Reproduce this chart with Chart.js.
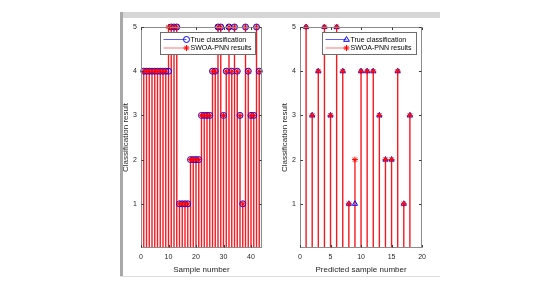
<!DOCTYPE html>
<html><head><meta charset="utf-8">
<script src="https://cdn.jsdelivr.net/npm/chart.js@4.4.1/dist/chart.umd.min.js"></script>
<style>
html,body{margin:0;padding:0;background:#fff;width:550px;height:300px;overflow:hidden;}
.f{position:absolute;}
canvas{position:absolute;}
</style></head><body>
<div class="f" style="left:120px;top:12px;width:320px;height:6px;background:#d6d6d6"></div>
<div class="f" style="left:120px;top:12px;width:3px;height:265px;background:#a8a8a8"></div>
<div class="f" style="left:120px;top:276px;width:320px;height:1px;background:#dedede"></div>
<canvas id="c1" width="150" height="262" style="left:120px;top:15px"></canvas>
<canvas id="c2" width="152" height="262" style="left:279px;top:15px"></canvas>
<script>
// ---- data ----
const leftSamples = [1,2,3,4,5,6,7,8,9,10,11,12,13,14,15,16,17,18,19,20,21,22,23,24,25,26,27,28,29,30,31,32,33,34,35,36,37,38,39,40,41,42,43];
const leftTrue    = [4,4,4,4,4,4,4,4,4,4,5,5,5,1,1,1,1,2,2,2,2,3,3,3,3,4,4,5,5,3,4,5,4,5,4,3,1,5,4,3,3,5,4];
const leftPred    = [4,4,4,4,4,4,4,4,4,5,5,5,5,1,1,1,1,2,2,2,2,3,3,3,3,4,4,5,5,3,4,5,4,5,4,3,1,5,4,3,3,5,4];
const leftXTicks  = [0,10,20,30,40];

const rightSamples = [1,2,3,4,5,6,7,8,9,10,11,12,13,14,15,16,17,18];
const rightTrue    = [5,3,4,5,3,5,4,1,1,4,4,4,3,2,2,4,1,3];
const rightPred    = [5,3,4,5,3,5,4,1,2,4,4,4,3,2,2,4,1,3];
const rightXTicks  = [0,5,10,15,20];

const yTicks = [1,2,3,4,5];
const legendLabels = ['True classification','SWOA-PNN results'];
const yTitle = 'Classification result';
const xTitleLeft = 'Sample number';
const xTitleRight = 'Predicted sample number';

const FONT = "'Liberation Sans', Arial, sans-serif";
const TXT = '#262626';

function drawMarker(ctx, kind, x, y, r, color){
  ctx.save();
  ctx.strokeStyle = color; ctx.lineWidth = 1;
  ctx.beginPath();
  if (kind === 'circle') {
    ctx.arc(x, y, r, 0, Math.PI*2);
  } else if (kind === 'triangle') {
    ctx.moveTo(x, y - r);
    ctx.lineTo(x + r*0.95, y + r*0.6);
    ctx.lineTo(x - r*0.95, y + r*0.6);
    ctx.closePath();
  } else {
    for (let k = 0; k < 4; k++) {
      const a = k*Math.PI/4;
      ctx.moveTo(x - r*Math.cos(a), y - r*Math.sin(a));
      ctx.lineTo(x + r*Math.cos(a), y + r*Math.sin(a));
    }
  }
  ctx.stroke();
  ctx.restore();
}

const frame = {
  id: 'frame',
  afterDatasetsDraw(chart) {
    const {ctx, chartArea: a, scales: {x, y}} = chart;
    ctx.save();
    ctx.strokeStyle = '#8c8c8c'; ctx.lineWidth = 1;
    const L = Math.round(a.left)+0.5, T = Math.round(a.top)+0.5, R = Math.round(a.right)-0.5, B = Math.round(a.bottom)-0.5;
    ctx.strokeRect(L, T, R-L, B-T);
    ctx.strokeStyle = '#3a3a3a';
    ctx.beginPath();
    x.ticks.forEach(t => {
      const px = Math.round(x.getPixelForValue(t.value)) + 0.5;
      ctx.moveTo(px, B); ctx.lineTo(px, B-2.5);
      ctx.moveTo(px, T); ctx.lineTo(px, T+2.5);
    });
    y.ticks.forEach(t => {
      const py = Math.round(y.getPixelForValue(t.value)) + 0.5;
      ctx.moveTo(L, py); ctx.lineTo(L+2.5, py);
      ctx.moveTo(R, py); ctx.lineTo(R-2.5, py);
    });
    ctx.stroke();
    ctx.restore();
  },
  afterDraw(chart, args, opts) {
    const {ctx, chartArea: a} = chart;
    const bl = Math.round(a.left + opts.dl) + 0.5;
    const br = Math.round(a.right - opts.dr) + 0.5;
    const bt = Math.round(a.top + opts.dt) + 0.5;
    const bh = 22;
    ctx.save();
    ctx.fillStyle = '#fff';
    ctx.fillRect(bl, bt, br-bl, bh);
    ctx.strokeStyle = '#6e6e6e'; ctx.lineWidth = 1;
    ctx.strokeRect(bl, bt, br-bl, bh);
    const rows = [bt + 7, bt + 15.5];
    const mx = bl + opts.mx;
    const cols = [['rgba(40,40,255,0.75)', '#0000ff', opts.marker], ['rgba(255,0,0,0.55)', '#ff0000', 'star']];
    rows.forEach((ry, i) => {
      ctx.strokeStyle = cols[i][0]; ctx.lineWidth = 1;
      ctx.beginPath(); ctx.moveTo(bl + 3, ry); ctx.lineTo(mx, ry); ctx.stroke();
      drawMarker(ctx, cols[i][2], mx, ry, 3, cols[i][1]);
      ctx.fillStyle = '#000';
      ctx.font = '7px ' + FONT;
      ctx.textBaseline = 'middle';
      ctx.textAlign = 'left';
      ctx.fillText(legendLabels[i], mx + 4, ry + 0.5);
    });
    ctx.restore();
  }
};

function makeChart(id, xs, tv, pv, xMax, xTicks, xTitle, marker, leg) {
  const tPts = xs.map((x, i) => ({x: x, y: tv[i]}));
  const pPts = xs.map((x, i) => ({x: x, y: pv[i]}));
  return new Chart(document.getElementById(id), {
    type: 'bar',
    data: {datasets: [
      {type: 'scatter', data: pPts, pointStyle: 'star', pointRadius: 3, pointBorderColor: '#ff0000', pointBackgroundColor: '#ff0000', pointBorderWidth: 1, order: 0, clip: false},
      {type: 'scatter', data: tPts, pointStyle: marker, pointRadius: 3, pointBorderColor: '#0000ff', pointBackgroundColor: 'rgba(0,0,0,0)', pointBorderWidth: 1, order: 1, clip: false},
      {type: 'bar', data: pPts, backgroundColor: 'rgba(255,0,0,0.9)', borderWidth: 0, barThickness: 0.7, grouped: false, order: 2},
      {type: 'bar', data: tPts, backgroundColor: 'rgba(0,0,255,0.1)', borderWidth: 0, barThickness: 0.7, grouped: false, order: 3}
    ]},
    options: {
      responsive: false, animation: false, devicePixelRatio: 1,
      events: [],
      layout: {padding: {left: 0, top: 12, right: 8, bottom: 0}},
      plugins: {legend: {display: false}, tooltip: {enabled: false}, frame: leg},
      scales: {
        x: {
          type: 'linear', min: 0, max: xMax, offset: false,
          grid: {display: false, drawTicks: false}, border: {display: false},
          afterBuildTicks: s => { s.ticks = xTicks.map(v => ({value: v})); },
          afterFit: s => { s.height = 29; },
          ticks: {padding: 5, color: TXT, font: {family: FONT, size: 7}, maxRotation: 0, autoSkip: false},
          title: {display: true, text: xTitle, color: TXT, font: {family: FONT, size: 8}, padding: {top: 0, bottom: 2}}
        },
        y: {
          type: 'linear', min: 0, max: 5,
          grid: {display: false, drawTicks: false}, border: {display: false},
          afterBuildTicks: s => { s.ticks = yTicks.map(v => ({value: v})); },
          afterFit: s => { s.width = 21; },
          ticks: {padding: 4, color: TXT, font: {family: FONT, size: 7}},
          title: {display: true, text: yTitle, color: TXT, font: {family: FONT, size: 8}, padding: {top: 1, bottom: 0}}
        }
      }
    },
    plugins: [frame]
  });
}

makeChart('c1', leftSamples, leftTrue, leftPred, 44, leftXTicks, xTitleLeft, 'circle', {dl: 18.5, dr: 7, dt: 5, mx: 26, marker: 'circle'});
makeChart('c2', rightSamples, rightTrue, rightPred, 20, rightXTicks, xTitleRight, 'triangle', {dl: 21.5, dr: 6.5, dt: 5, mx: 24, marker: 'triangle'});
</script>
</body></html>
